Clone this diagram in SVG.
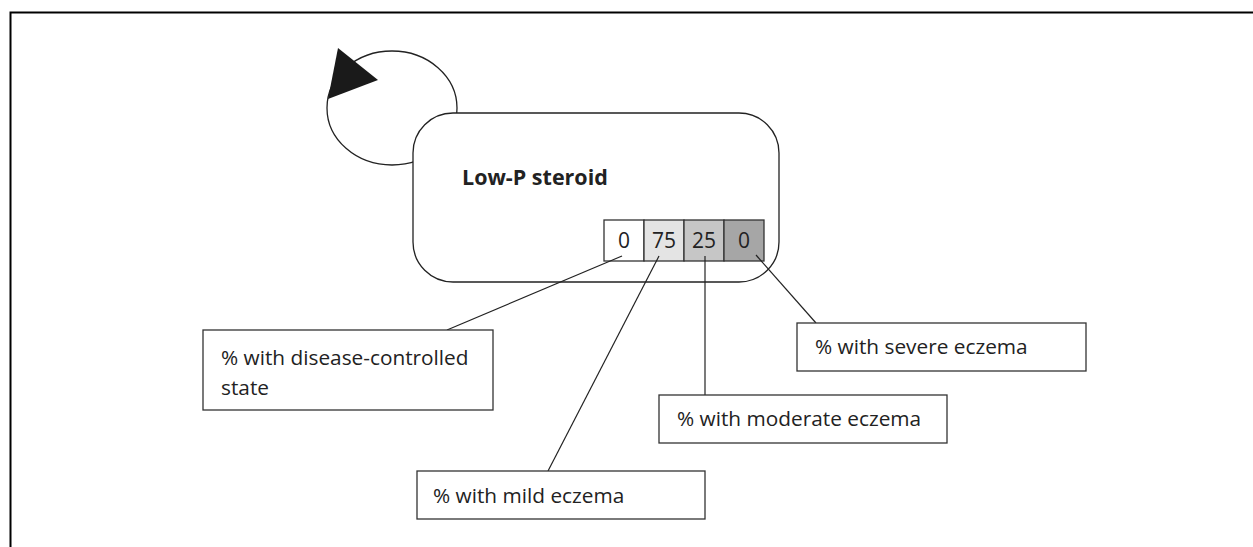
<svg xmlns="http://www.w3.org/2000/svg" width="1253" height="547" viewBox="0 0 1253 547">
  <style>
    .frame { fill: none; stroke: #000; stroke-width: 2; }
    .shape { fill: #fff; stroke: #222; stroke-width: 1.3; }
    .label { fill: #fff; stroke: #333; stroke-width: 1.3; }
    .cell { stroke: #333; stroke-width: 1.3; }
    .wire { fill: none; stroke: #222; stroke-width: 1.2; }
    text { font-family: "Open Sans", "Liberation Sans", Arial, sans-serif; fill: #222; }
    .title { font-size: 21.5px; font-weight: bold; }
    .num { font-size: 21px; text-anchor: middle; }
    .txt { font-size: 20.8px; }
  </style>

  <!-- outer frame (extends past the right and bottom edges) -->
  <rect class="frame" x="10.5" y="12.5" width="1300" height="600"/>

  <!-- self-loop on the state -->
  <g id="loop">
    <ellipse class="shape" cx="392" cy="108" rx="65" ry="57"/>
    <polygon points="338,48 378,80 328,99" fill="#1a1a1a"/>
  </g>

  <!-- state node -->
  <g id="state-low-p-steroid">
    <rect class="shape" x="413" y="113" width="366" height="169" rx="40" ry="40"/>
    <text class="title" x="462" y="185">Low-P steroid</text>
    <rect class="cell" x="604" y="220" width="40" height="41" fill="#ffffff"/>
    <rect class="cell" x="644" y="220" width="40" height="41" fill="#e4e4e4"/>
    <rect class="cell" x="684" y="220" width="40" height="41" fill="#c6c6c6"/>
    <rect class="cell" x="724" y="220" width="40" height="41" fill="#a6a6a6"/>
    <text class="num" x="624" y="248">0</text>
    <text class="num" x="664" y="248">75</text>
    <text class="num" x="704" y="248">25</text>
    <text class="num" x="744" y="248">0</text>
  </g>

  <!-- leader lines from the cells to their labels -->
  <g id="connectors">
    <line class="wire" x1="622" y1="256" x2="447" y2="330"/>
    <line class="wire" x1="659" y1="256" x2="548" y2="471"/>
    <line class="wire" x1="705" y1="256" x2="705" y2="395"/>
    <line class="wire" x1="756" y1="255" x2="816" y2="323"/>
  </g>

  <g id="label-controlled">
    <rect class="label" x="203" y="330" width="290" height="80"/>
    <text class="txt" x="221" y="365">% with disease-controlled</text>
    <text class="txt" x="221" y="395">state</text>
  </g>

  <g id="label-mild">
    <rect class="label" x="417" y="471" width="288" height="48"/>
    <text class="txt" x="433" y="503">% with mild eczema</text>
  </g>

  <g id="label-moderate">
    <rect class="label" x="659" y="395" width="288" height="48"/>
    <text class="txt" x="677" y="426">% with moderate eczema</text>
  </g>

  <g id="label-severe">
    <rect class="label" x="797" y="323" width="289" height="48"/>
    <text class="txt" x="815" y="354">% with severe eczema</text>
  </g>
</svg>
